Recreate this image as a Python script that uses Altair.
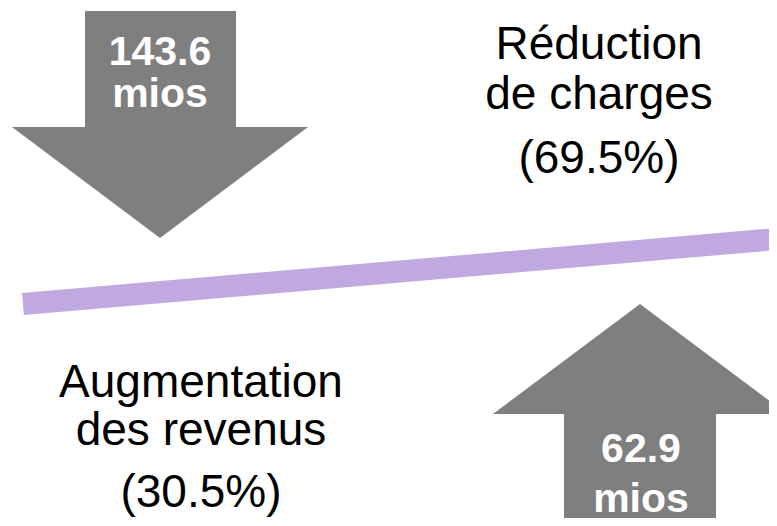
import altair as alt
import pandas as pd

# ---- data -----------------------------------------------------------
categories = ["Réduction de charges", "Augmentation des revenus"]
cat_lines = [["Réduction", "de charges"], ["Augmentation", "des revenus"]]
amounts = [143.6, 62.9]          # mios
shares = [69.5, 30.5]            # %
unit = "mios"

# ---- layout (image pixel space) --------------------------------------
GRAY = "#7f7f7f"
PURPLE = "#bfa9e0"
FONT = "Liberation Sans"

# arrow anchor = centre of head base
arrow_anchor = [(160, 127), (640, 414)]
down_path = "M -75 -116 L 76 -116 L 76 0 L 148 0 L 0 111 L -148 0 L -75 0 Z"
up_path = "M -76 130 L 76 130 L 76 0 L 147 0 L 0 -110 L -147 0 L -76 0 Z"
arrow_paths = [down_path, up_path]

value_pos = [[(160, 65), (160, 107)], [(641, 462), (641, 512)]]
cat_pos = [[(599, 59), (599, 109)], [(201, 397), (201, 445)]]
share_pos = [(599, 173), (201, 507)]

beam = pd.DataFrame({"x": [23, 777], "y": [304, 239]})

# visible window of the chart in image pixels (page has an 8px margin)
X0, X1, Y0, Y1 = 8, 769, 8, 518

xs = alt.Scale(domain=[X0, X1], nice=False, zero=False)
ys = alt.Scale(domain=[Y0, Y1], nice=False, zero=False, reverse=True)
X = lambda f="x": alt.X(f, type="quantitative", scale=xs, axis=None)
Y = lambda f="y": alt.Y(f, type="quantitative", scale=ys, axis=None)

layers = []

# beam
layers.append(
    alt.Chart(beam).mark_line(color=PURPLE, strokeWidth=22, strokeCap="butt", clip=True)
    .encode(x=X(), y=Y())
)

# arrows
for i in range(2):
    df = pd.DataFrame({"x": [arrow_anchor[i][0]], "y": [arrow_anchor[i][1]]})
    layers.append(
        alt.Chart(df).mark_point(shape=arrow_paths[i], size=4, filled=True,
                                 fill=GRAY, strokeWidth=0, opacity=1)
        .encode(x=X(), y=Y())
    )

# value text in arrows
vrows = []
for i in range(2):
    vtxt = [f"{amounts[i]:.1f}", unit]
    for t, (px, py) in zip(vtxt, value_pos[i]):
        vrows.append({"x": px, "y": py, "t": t})
layers.append(
    alt.Chart(pd.DataFrame(vrows)).mark_text(font=FONT, fontSize=41, fontWeight="bold",
                                             color="white", align="center", baseline="alphabetic")
    .encode(x=X(), y=Y(), text="t:N")
)

# category text
crows = []
for i in range(2):
    for t, (px, py) in zip(cat_lines[i], cat_pos[i]):
        crows.append({"x": px, "y": py, "t": t})
    crows.append({"x": share_pos[i][0], "y": share_pos[i][1], "t": f"({shares[i]:.1f}%)"})
layers.append(
    alt.Chart(pd.DataFrame(crows)).mark_text(font=FONT, fontSize=46, color="black",
                                             align="center", baseline="alphabetic")
    .encode(x=X(), y=Y(), text="t:N")
)

chart = alt.layer(*layers).properties(
    width=X1 - X0, height=Y1 - Y0,
    autosize=alt.AutoSizeParams(type="none"),
    padding=0,
).configure_view(stroke=None)

chart.save("out.html", embed_options={"renderer": "svg", "actions": False})
